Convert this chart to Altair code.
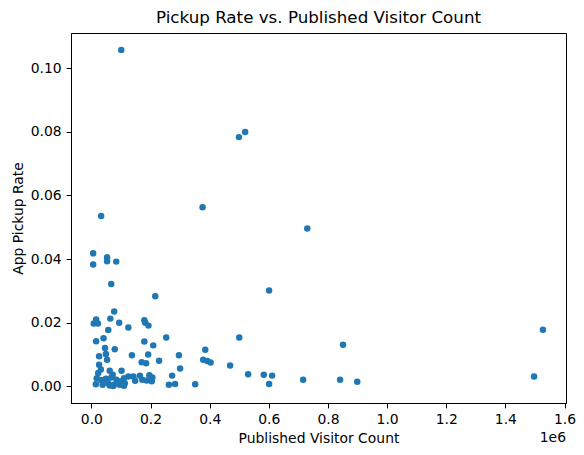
import altair as alt
import pandas as pd

visitors_m = [
    0.101, 0.499, 0.520, 0.376, 0.033, 0.730, 0.006, 0.006, 0.053, 0.053,
    0.084, 0.067, 0.601, 0.216, 0.077, 0.064, 0.016, 0.008, 0.022, 0.094,
    0.125, 0.057, 0.179, 0.182, 0.193, 1.527, 0.253, 0.500, 0.016, 0.041,
    0.179, 0.209, 0.851, 0.046, 0.079, 0.385, 0.049, 0.026, 0.137, 0.192,
    0.296, 0.053, 0.378, 0.392, 0.403, 0.229, 0.170, 0.185, 0.026, 0.469,
    0.032, 0.300, 0.062, 0.102, 0.023, 0.072, 0.273, 0.530, 0.583, 0.611,
    1.497, 0.196, 0.206, 0.204, 0.172, 0.187, 0.018, 0.049, 0.085, 0.110,
    0.125, 0.142, 0.164, 0.716, 0.841, 0.899, 0.601, 0.262, 0.283, 0.351,
    0.015, 0.038, 0.057, 0.076, 0.096, 0.113, 0.102, 0.148, 0.062, 0.074,
    0.110, 0.042, 0.032, 0.067,
]
pickup_rate = [
    0.1057, 0.0783, 0.0799, 0.0563, 0.0535, 0.0496, 0.0418, 0.0383, 0.0406, 0.0393,
    0.0392, 0.0322, 0.0301, 0.0283, 0.0235, 0.0213, 0.0210, 0.0198, 0.0198, 0.0200,
    0.0185, 0.0177, 0.0208, 0.0200, 0.0191, 0.0178, 0.0154, 0.0154, 0.0142, 0.0151,
    0.0141, 0.0129, 0.0131, 0.0121, 0.0117, 0.0115, 0.0102, 0.0095, 0.0098, 0.0100,
    0.0098, 0.0084, 0.0084, 0.0080, 0.0075, 0.0081, 0.0076, 0.0073, 0.0068, 0.0066,
    0.0053, 0.0056, 0.0049, 0.0049, 0.0042, 0.0037, 0.0034, 0.0038, 0.0037, 0.0034,
    0.0031, 0.0035, 0.0028, 0.0016, 0.0021, 0.0019, 0.0026, 0.0024, 0.0021, 0.0026,
    0.0031, 0.0031, 0.0034, 0.0021, 0.0021, 0.0015, 0.0008, 0.0005, 0.0008, 0.0007,
    0.0007, 0.0005, 0.0010, 0.0005, 0.0005, 0.0010, 0.0016, 0.0018, 0.0003, 0.0001,
    0.0002, 0.0012, 0.0020, 0.0028,
]

x_ticks = [0, 200000, 400000, 600000, 800000, 1000000, 1200000, 1400000, 1600000]
y_ticks = [0.0, 0.02, 0.04, 0.06, 0.08, 0.10]

df = pd.DataFrame({
    "visitors": [v * 1e6 for v in visitors_m],
    "rate": pickup_rate,
})

W, H = 495, 370

points = alt.Chart(df).mark_circle(size=42, opacity=1, color="#1f77b4").encode(
    x=alt.X(
        "visitors:Q",
        scale=alt.Scale(domain=[-69000, 1605000], nice=False, zero=False),
        axis=alt.Axis(
            title="Published Visitor Count",
            values=x_ticks,
            labelExpr="format(datum.value / 1000000, '.1f')",
            grid=False,
        ),
    ),
    y=alt.Y(
        "rate:Q",
        scale=alt.Scale(domain=[-0.0052, 0.111], nice=False, zero=False),
        axis=alt.Axis(
            title="App Pickup Rate",
            values=y_ticks,
            format=".2f",
            grid=False,
        ),
    ),
)

offset_text = alt.Chart(pd.DataFrame({"t": ["1e6"]})).mark_text(
    align="right", baseline="middle", fontSize=13.9, font="DejaVu Sans", color="black"
).encode(
    text="t:N",
    x=alt.value(W),
    y=alt.value(H + 35),
)

chart = alt.layer(points, offset_text).properties(
    width=W,
    height=H,
    title=alt.TitleParams(
        "Pickup Rate vs. Published Visitor Count",
        fontSize=16.7,
        fontWeight="normal",
        font="DejaVu Sans",
        color="black",
        offset=6,
    ),
    autosize=alt.AutoSizeParams(type="none"),
    padding={"left": 63, "top": 25, "right": 10, "bottom": 50},
).configure_view(
    stroke="black", strokeWidth=1
).configure_axis(
    labelFont="DejaVu Sans",
    titleFont="DejaVu Sans",
    labelFontSize=13.9,
    titleFontSize=13.9,
    titleFontWeight="normal",
    labelColor="black",
    titleColor="black",
    domainColor="black",
    tickColor="black",
    tickSize=4.9,
    labelPadding=4.9,
    titlePadding=5,
).configure_axisX(
    labelBaseline="top",
)

chart.save("out.html", embed_options={"renderer": "svg", "actions": False})
